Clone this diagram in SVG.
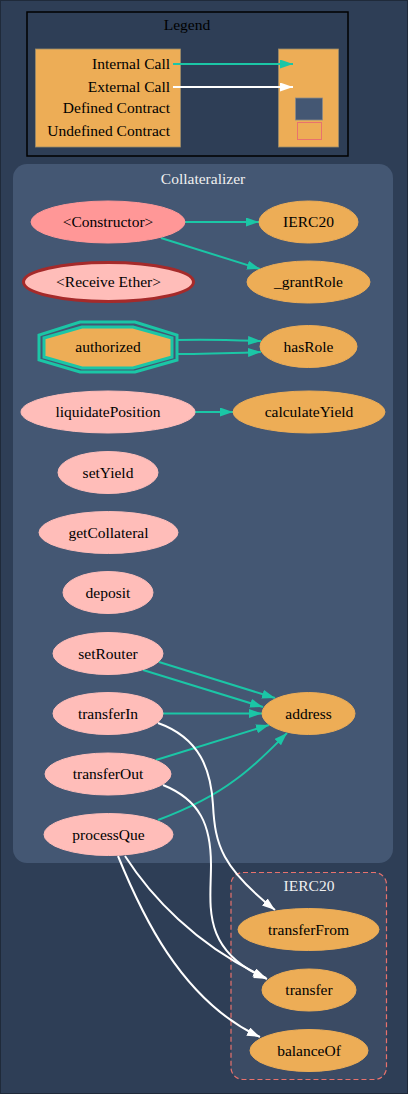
<svg xmlns="http://www.w3.org/2000/svg" width="408" height="1094" viewBox="0 0 408 1094">
<style>
text{font-family:"Liberation Serif","Times New Roman",serif;font-size:15.5px;text-anchor:middle;fill:#000}
.title{fill:#f0f0f0}
.fn{fill:#ffbdb9;stroke:#ffbdb9}
.ext{fill:#edad56;stroke:#edad56}
.ie{fill:none;stroke:#1bc6a6;stroke-width:2}
.ee{fill:none;stroke:#ffffff;stroke-width:2}
</style>
<defs>
<marker id="at" markerUnits="userSpaceOnUse" markerWidth="14" markerHeight="10" refX="13" refY="4.5" orient="auto"><path d="M0,0 L13,4.5 L0,9 z" fill="#1bc6a6"/></marker>
<marker id="aw" markerUnits="userSpaceOnUse" markerWidth="14" markerHeight="10" refX="13" refY="4.5" orient="auto"><path d="M0,0 L13,4.5 L0,9 z" fill="#ffffff"/></marker>
</defs>
<rect x="0.5" y="0.5" width="407" height="1093" fill="#2e3e56" stroke="#1f2a3a"/>
<g id="legend">
<rect x="27" y="12" width="321" height="144" fill="#2e3e56" stroke="#000" stroke-width="1.5"/>
<text x="187" y="30">Legend</text>
<rect x="35.5" y="49" width="145" height="98" fill="#edad56" stroke="#9a8a6a" stroke-width="0.8"/>
<rect x="278.5" y="49" width="60" height="98" fill="#edad56" stroke="#9a8a6a" stroke-width="0.8"/>
<text x="170" y="69" style="text-anchor:end">Internal Call</text>
<text x="170" y="92" style="text-anchor:end">External Call</text>
<text x="170" y="113" style="text-anchor:end">Defined Contract</text>
<text x="170" y="136" style="text-anchor:end">Undefined Contract</text>
<path class="ie" d="M173,64 L293,64" marker-end="url(#at)"/>
<path class="ee" d="M173,87 L293,87" marker-end="url(#aw)"/>
<rect x="295.5" y="98" width="27" height="22" fill="#445773" stroke="#8a8a8a" stroke-width="0.8"/>
<rect x="297.5" y="122.5" width="24" height="17" fill="none" stroke="#e8726d" stroke-width="1"/>
</g>
<g id="cluster_Collateralizer">
<rect x="13" y="164" width="380" height="699" rx="14" fill="#445773"/>
<text class="title" x="203" y="184">Collateralizer</text>
</g>
<g id="cluster_IERC20">
<rect x="231" y="872.5" width="155.5" height="207" rx="12" fill="#3b4b64" stroke="#e8726d" stroke-width="1.2" stroke-dasharray="5,3"/>
<text class="title" x="309" y="891">IERC20</text>
</g>
<g id="connectors">
<path class="ie" d="M185,222 L259,222" marker-end="url(#at)"/>
<path class="ie" d="M161,238 L260,269" marker-end="url(#at)"/>
<path class="ie" d="M177,340 C205,339 235,340 261,341" marker-end="url(#at)"/>
<path class="ie" d="M177,354 C205,354 235,353 261,352" marker-end="url(#at)"/>
<path class="ie" d="M195,412 L233,412" marker-end="url(#at)"/>
<path class="ie" d="M159,662 L275,698" marker-end="url(#at)"/>
<path class="ie" d="M143,670 L263,707" marker-end="url(#at)"/>
<path class="ie" d="M163,713.5 L262,713.5" marker-end="url(#at)"/>
<path class="ie" d="M156,760 L269,725" marker-end="url(#at)"/>
<path class="ie" d="M158,820 C190,808 215,795 235,780 C255,766 270,750 287,733" marker-end="url(#at)"/>
<path class="ee" d="M158,723 C200,738 211,770 213,805 C215,845 222,868 275,910" marker-end="url(#aw)"/>
<path class="ee" d="M163,785 C200,800 211,825 211,865 C211,905 200,950 267,979" marker-end="url(#aw)"/>
<path class="ee" d="M125,856 C150,895 195,945 266,978" marker-end="url(#aw)"/>
<path class="ee" d="M118,856 C140,910 180,1000 260,1037" marker-end="url(#aw)"/>
</g>
<g id="n_constructor"><ellipse cx="108" cy="222" rx="77" ry="21" fill="#ff9797" stroke="#ff9797"/><text x="108" y="227">&lt;Constructor&gt;</text></g>
<g id="n_IERC20"><ellipse class="ext" cx="308.5" cy="222" rx="49.5" ry="21"/><text x="308.5" y="227">IERC20</text></g>
<g id="n_grantRole"><ellipse class="ext" cx="308.5" cy="282" rx="61.5" ry="21"/><text x="308.5" y="287">_grantRole</text></g>
<g id="n_receive"><ellipse cx="108.5" cy="282" rx="85" ry="19.5" fill="#ffbdb9" stroke="#a52a2a" stroke-width="3"/><text x="108.5" y="287">&lt;Receive Ether&gt;</text></g>
<g id="n_authorized">
<polygon points="80,322 135,322 177,335 177,360 135,372 80,372 39,360 39,335" fill="none" stroke="#1bc6a6" stroke-width="3"/>
<polygon points="82,327 133,327 172,338 172,357 133,368 82,368 44,357 44,338" fill="#edad56" stroke="#1bc6a6" stroke-width="3"/>
<text x="108" y="352">authorized</text>
</g>
<g id="n_hasRole"><ellipse class="ext" cx="308.5" cy="346.5" rx="48.5" ry="21"/><text x="308.5" y="351.5">hasRole</text></g>
<g id="n_liquidatePosition"><ellipse class="fn" cx="108" cy="412" rx="87" ry="21"/><text x="108" y="417">liquidatePosition</text></g>
<g id="n_calculateYield"><ellipse class="ext" cx="309" cy="412" rx="76" ry="21"/><text x="309" y="417">calculateYield</text></g>
<g id="n_setYield"><ellipse class="fn" cx="108" cy="472.5" rx="50" ry="21"/><text x="108" y="477.5">setYield</text></g>
<g id="n_getCollateral"><ellipse class="fn" cx="108.5" cy="532.5" rx="69.5" ry="21"/><text x="108.5" y="537.5">getCollateral</text></g>
<g id="n_deposit"><ellipse class="fn" cx="108" cy="592.5" rx="45" ry="21"/><text x="108" y="597.5">deposit</text></g>
<g id="n_setRouter"><ellipse class="fn" cx="108" cy="653.5" rx="55" ry="21"/><text x="108" y="658.5">setRouter</text></g>
<g id="n_transferIn"><ellipse class="fn" cx="108" cy="713.5" rx="55" ry="21"/><text x="108" y="718.5">transferIn</text></g>
<g id="n_transferOut"><ellipse class="fn" cx="108" cy="774" rx="63" ry="21"/><text x="108" y="779">transferOut</text></g>
<g id="n_processQue"><ellipse class="fn" cx="108.5" cy="834.5" rx="64.5" ry="21"/><text x="108.5" y="839.5">processQue</text></g>
<g id="n_address"><ellipse class="ext" cx="308.5" cy="713.5" rx="46.5" ry="21"/><text x="308.5" y="718.5">address</text></g>
<g id="n_transferFrom"><ellipse class="ext" cx="308.5" cy="929.5" rx="70.5" ry="21"/><text x="308.5" y="934.5">transferFrom</text></g>
<g id="n_transfer"><ellipse class="ext" cx="309" cy="990" rx="47" ry="21"/><text x="309" y="995">transfer</text></g>
<g id="n_balanceOf"><ellipse class="ext" cx="309" cy="1050.5" rx="59" ry="21"/><text x="309" y="1055.5">balanceOf</text></g>
</svg>
